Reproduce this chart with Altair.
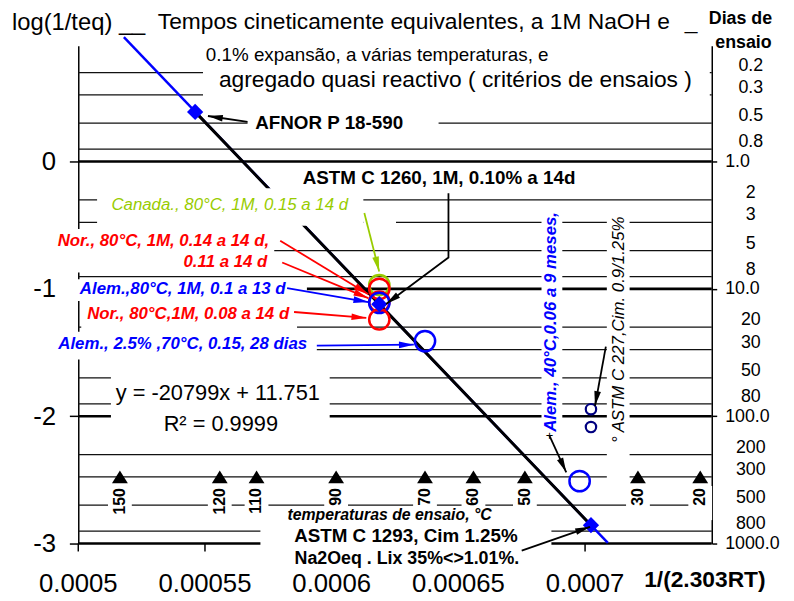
import math
import altair as alt
import pandas as pd

FONT = "Liberation Sans"

# ---------------- data ----------------
# right-hand "Dias de ensaio" scale (log(1/teq) = -log10(days))
days = [0.2, 0.3, 0.5, 0.8, 1, 2, 3, 5, 8, 10, 20, 30, 50, 80, 100, 200, 300, 500, 800, 1000]
day_labels = ["0.2", "0.3", "0.5", "0.8", "1.0", "2", "3", "5", "8", "10.0",
              "20", "30", "50", "80", "100.0", "200", "300", "500", "800", "1000.0"]
decades = [1, 10, 100, 1000]

# x-axis ticks
x_ticks = [0.0005, 0.00055, 0.0006, 0.00065, 0.0007]

# blue diamonds (regression points)
diam_names = ["AFNOR P 18-590", "ASTM C 1260", "ASTM C 1293"]
diam_x = [0.00054612, 0.00061880, 0.00070233]
diam_y = [0.39, -1.12, -2.856]

# blue trend line extension (y = -20799x + 11.751)
trend_x = [0.000518, 0.000709]
trend_y = [0.977, -2.995]

# open circles
circ_names = ["Canada", "Nor 0.14", "Nor 0.11", "Alem 80", "Nor 0.08", "Alem 70", "Alem 40"]
circ_group = ["Canada", "Nor", "Nor", "Alem", "Nor", "Alem", "Alem"]
circ_x = [0.0006188, 0.0006188, 0.0006188, 0.0006188, 0.0006188, 0.00063683, 0.00069785]
circ_y = [-0.97, -1.00, -1.10, -1.11, -1.24, -1.41, -2.51]

# ASTM C 227 small circles
c227_x = [0.00070233, 0.00070233]
c227_y = [-1.945, -2.085]

# test temperatures (triangles on the 300-day line)
temp_labels = ["150", "120", "110", "90", "70", "60", "50", "30", "20"]
temp_x = [0.00051643, 0.00055584, 0.00057035, 0.00060176, 0.00063683,
          0.00065595, 0.00067625, 0.00072087, 0.00074545]
temp_level = -2.477
temp_label_y = -2.565

# white text-box masks (data coordinates)
mask_x1 = [0.00054922, 0.00056680, 0.00058438, 0.00050742, 0.00049063, 0.00049570,
           0.00050117, 0.00049063, 0.00051289, 0.00068281, 0.00070859, 0.00057188, 0.00061250]
mask_x2 = [0.00074922, 0.00064219, 0.00070039, 0.00061250, 0.00057734, 0.00059023,
           0.00058633, 0.00059414, 0.00059922, 0.00069102, 0.00071758, 0.00068672, 0.00062539]
mask_y1 = [0.948, 0.389, -0.039, -0.210, -0.529, -0.925, -1.119, -1.337, -1.648, -0.350, -0.350,
           -2.729, -0.4276]
mask_y2 = [0.451, 0.202, -0.241, -0.505, -0.871, -1.096, -1.322, -1.555, -2.177, -2.177, -2.526,
           -3.203, -0.5131]

# arrows (polylines, last point = tip)
arrow_id = ["a1", "a1", "a2", "a2", "a2", "a3", "a3", "a4", "a4", "a5", "a5", "a6", "a6",
            "a7", "a7", "a8", "a8", "a9", "a9", "a10", "a10", "a11", "a11"]
arrow_x = [0.00056680, 0.00055117, 0.00064609, 0.00064609, 0.00062148, 0.00061289, 0.00061875,
           0.00057969, 0.00061445, 0.00058047, 0.00061445, 0.00058242, 0.00061445,
           0.00058516, 0.00061367, 0.00059414, 0.00063242, 0.00068594, 0.00069258,
           0.00070820, 0.00070391, 0.000675, 0.00070195]
arrow_y = [0.3109, 0.3576, -0.2488, -0.7540, -1.1194, -0.4042, -0.8629,
           -0.6219, -1.0417, -0.7929, -1.0728, -0.9950, -1.1039,
           -1.1816, -1.2282, -1.4459, -1.4381, -2.1533, -2.4409,
           -1.4537, -1.9201, -3.0550, -2.8685]
arrow_colors = {"a1": "black", "a2": "black", "a3": "#99cc00", "a4": "#ff0000", "a5": "#ff0000",
                "a6": "#0000ff", "a7": "#ff0000", "a8": "#0000ff", "a9": "black", "a10": "black",
                "a11": "black"}

# text annotations
ann_text = ["log(1/teq) __", "Tempos cineticamente equivalentes, a 1M NaOH e", "_",
            "0.1% expansão, a várias temperaturas, e",
            "agregado quasi reactivo ( critérios de ensaios )", "Dias de", "ensaio",
            "AFNOR P 18-590", "ASTM C 1260, 1M, 0.10% a 14d",
            "Canada., 80°C, 1M, 0.15 a 14 d", "Nor., 80°C, 1M, 0.14 a 14 d,", "0.11 a 14 d",
            "Alem.,80°C, 1M, 0.1 a 13 d", "Nor., 80°C,1M, 0.08 a 14 d",
            "Alem., 2.5% ,70°C, 0.15, 28 dias", "y = -20799x + 11.751", "R² = 0.9999",
            "Alem., 40°C,0.06 a 9 meses,", "° ASTM C 227,Cim. 0.9/1.25%",
            "temperaturas de ensaio, °C", "ASTM C 1293, Cim 1.25%", "Na2Oeq . Lix 35%<>1.01%.",
            "1/(2.303RT)", "+"]
ann_x = [0.00047383, 0.00063242, 0.00074180, 0.00061797, 0.00064883, 0.00076133, 0.00076250,
         0.00059902, 0.00064238, 0.00055977, 0.00053359, 0.00057461, 0.00054121, 0.00054336,
         0.00054121, 0.00055508, 0.00055625, 0.00068672, 0.00071328, 0.00062285, 0.00062930,
         0.00062969, 0.00074727, 0.00068594]
ann_y = [1.0883, 1.0961, 1.0961, 0.8396, 0.6374, 1.1194, 0.9328,
         0.3032, -0.1322, -0.3420, -0.6219, -0.7929, -1.0028, -1.1971,
         -1.4303, -1.819, -2.060, -1.2593, -1.3215, -2.7752, -2.9384,
         -3.125, -3.2882, -2.1533]
ann_style = ["ylab", "title", "title", "title2", "title", "dias", "dias",
             "bold", "bold", "green", "red", "red_right", "blue", "red",
             "blue", "eq", "eq", "blue_vert", "black_vert", "temps", "bold",
             "bold18", "xtitle", "plus"]

right_label_x = 0.0007654

# ---------------- styles ----------------
styles = {
    "ylab": dict(fontSize=24, align="left"),
    "title": dict(fontSize=23),
    "title2": dict(fontSize=19),
    "dias": dict(fontSize=18, fontWeight="bold"),
    "bold": dict(fontSize=19, fontWeight="bold"),
    "bold18": dict(fontSize=18, fontWeight="bold"),
    "green": dict(fontSize=17, fontStyle="italic", color="#99cc00"),
    "red": dict(fontSize=17, fontStyle="italic", fontWeight="bold", color="#ff0000"),
    "red_right": dict(fontSize=17, fontStyle="italic", fontWeight="bold", color="#ff0000", align="right"),
    "blue": dict(fontSize=17, fontStyle="italic", fontWeight="bold", color="#0000ff"),
    "eq": dict(fontSize=22),
    "blue_vert": dict(fontSize=17, fontStyle="italic", fontWeight="bold", color="#0000ff", angle=270),
    "black_vert": dict(fontSize=17, fontStyle="italic", angle=270),
    "temps": dict(fontSize=16, fontStyle="italic", fontWeight="bold"),
    "xtitle": dict(fontSize=23, fontWeight="bold"),
    "plus": dict(fontSize=13),
}

W, H = 640, 503
XD = [0.0005, 0.00075]
YD = [-3, 0.91]
xs = alt.Scale(domain=XD, nice=False, zero=False)
ys = alt.Scale(domain=YD, nice=False, zero=False)


def X(f, axis=None):
    return alt.X(f, type="quantitative", scale=xs, axis=axis)


def Y(f, axis=None):
    return alt.Y(f, type="quantitative", scale=ys, axis=axis)


left_axis = alt.Axis(orient="left", values=[0, -1, -2, -3], labelExpr="'' + datum.value",
                     labelFont=FONT, labelFontSize=26, labelColor="black", tickSize=9,
                     tickWidth=1.5, tickColor="black", domainColor="black", domainWidth=1.5,
                     labelPadding=14, grid=False, title=None)
right_axis = alt.Axis(orient="right", values=[0, -1, -2, -3],
                      labelExpr="format(pow(10, -datum.value), '.1f')",
                      labelFont=FONT, labelFontSize=18, labelColor="black", tickSize=5,
                      tickWidth=1.5, tickColor="black", domainColor="black", domainWidth=1.5,
                      labelPadding=8, labelAlign="left", grid=False, title=None)

days_df = pd.DataFrame({"d": days, "lab": day_labels, "dec": [d in decades for d in days]})

# x axis drawn by hand (ticks + labels) so that it sits under the text boxes
xt_df = pd.DataFrame({"x": x_ticks, "lab": [str(v) for v in x_ticks]})
x_tick_marks = alt.Chart(xt_df).mark_rule(color="black", strokeWidth=1.5, y2Offset=8).encode(
    x=X("x"), y=alt.value(H), y2=alt.value(H))
x_tick_labels = alt.Chart(xt_df).mark_text(font=FONT, fontSize=26, color="black", align="center",
                                           baseline="top", dy=28).encode(
    x=X("x"), y=alt.value(H), text="lab:N")

grid_thin = alt.Chart(days_df).transform_filter("!datum.dec").transform_calculate(
    yv="-log(datum.d)/LN10").mark_rule(color="#111111", strokeWidth=1.3).encode(
    y=Y("yv", left_axis))
grid_thick = alt.Chart(days_df).transform_filter("datum.dec").transform_calculate(
    yv="-log(datum.d)/LN10").mark_rule(color="black", strokeWidth=2.6).encode(
    y=Y("yv", right_axis))
right_labels = alt.Chart(days_df).transform_filter("!datum.dec").transform_calculate(
    yv="-log(datum.d)/LN10", lx=str(right_label_x)).mark_text(
    font=FONT, fontSize=18, dy=-7, align="center", baseline="middle", color="black").encode(
    x=X("lx"), y=Y("yv"), text="lab:N")

trend = alt.Chart(pd.DataFrame({"x": trend_x, "y": trend_y})).mark_line(
    color="#0000ff", strokeWidth=2.5).encode(x=X("x"), y=Y("y"))
diam_df = pd.DataFrame({"n": diam_names, "x": diam_x, "y": diam_y})
black_line = alt.Chart(diam_df).mark_line(color="black", strokeWidth=3).encode(x=X("x"), y=Y("y"))

masks = alt.Chart(pd.DataFrame({"x1": mask_x1, "x2": mask_x2, "y1": mask_y1, "y2": mask_y2})).mark_rect(
    color="white", opacity=1).encode(x=X("x1"), x2="x2", y=Y("y1"), y2="y2")

temp_df = pd.DataFrame({"t": temp_labels, "tx": temp_x, "ty": [temp_level] * len(temp_x),
                        "ly": [temp_label_y] * len(temp_x)})
tmask = alt.Chart(temp_df).transform_calculate(
    xa="datum.tx - 0.0000047", xb="datum.tx + 0.0000047", ya="-2.548", yb="-2.816").mark_rect(
    color="white", opacity=1).encode(x=X("xa"), x2="xb", y=Y("ya"), y2="yb")

circ_df = pd.DataFrame({"n": circ_names, "g": circ_group, "x": circ_x, "y": circ_y})
circles = alt.Chart(circ_df).mark_point(shape="circle", filled=False, strokeWidth=2.5, size=420,
                                        opacity=1).encode(
    x=X("x"), y=Y("y"),
    color=alt.Color("g:N", scale=alt.Scale(domain=["Canada", "Nor", "Alem"],
                                           range=["#99cc00", "#ff0000", "#0000ff"]), legend=None))
c227 = alt.Chart(pd.DataFrame({"x": c227_x, "y": c227_y})).mark_point(
    shape="circle", filled=False, strokeWidth=2.2, size=110, color="#000080", opacity=1).encode(
    x=X("x"), y=Y("y"))
diamonds = alt.Chart(diam_df).mark_point(shape="diamond", filled=True, size=270, color="#0000ff",
                                         opacity=1).encode(x=X("x"), y=Y("y"))

triangles = alt.Chart(temp_df).mark_point(shape="M-1,0.8L0,-0.8L1,0.8Z", filled=True, size=256,
                                          color="black", opacity=1).encode(
    x=X("tx"), y=Y("ty"))
temp_text = alt.Chart(temp_df).mark_text(font=FONT, fontSize=16, fontWeight="bold", angle=270,
                                         align="right", baseline="middle", color="black").encode(
    x=X("tx"), y=Y("ly"), text="t:N")

# arrows
arr_df = pd.DataFrame({"id": arrow_id, "x": arrow_x, "y": arrow_y})
arr_df["o"] = range(len(arr_df))
arr_df["c"] = [arrow_colors[i] for i in arrow_id]
arrow_lines = alt.Chart(arr_df).mark_line(strokeWidth=1.8).encode(
    x=X("x"), y=Y("y"), detail="id:N", order="o:Q", color=alt.Color("c:N", scale=None))

px_x = W / (XD[1] - XD[0])
px_y = H / (YD[1] - YD[0])
heads = []
for aid in dict.fromkeys(arrow_id):
    pts = arr_df[arr_df["id"] == aid]
    x1, y1 = pts.iloc[-2]["x"], pts.iloc[-2]["y"]
    x2, y2 = pts.iloc[-1]["x"], pts.iloc[-1]["y"]
    dx = (x2 - x1) * px_x
    dy = -(y2 - y1) * px_y
    ang = math.degrees(math.atan2(dx, -dy)) % 360
    heads.append({"x": x2, "y": y2, "ang": ang, "c": arrow_colors[aid]})
arrow_heads = alt.Chart(pd.DataFrame(heads)).mark_point(
    shape="M0,0L-0.45,2L0.45,2Z", filled=True, size=225, opacity=1).encode(
    x=X("x"), y=Y("y"), angle=alt.Angle("ang:Q", scale=None), color=alt.Color("c:N", scale=None))

text_layers = []
for t, x, y, s in zip(ann_text, ann_x, ann_y, ann_style):
    kw = dict(font=FONT, align="center", baseline="middle", color="black")
    kw.update(styles[s])
    text_layers.append(
        alt.Chart(pd.DataFrame({"t": [t], "x": [x], "y": [y]})).mark_text(**kw).encode(
            x=X("x"), y=Y("y"), text="t:N"))

chart = alt.layer(
    x_tick_marks, x_tick_labels, grid_thin, grid_thick, right_labels, trend, black_line, masks,
    tmask, circles, c227, diamonds, triangles, temp_text, arrow_lines, arrow_heads, *text_layers
).resolve_axis(y="independent").properties(
    width=W, height=H,
    padding={"left": 71, "top": 35, "right": 75, "bottom": 55},
    autosize=alt.AutoSizeParams(type="none"),
).configure_view(stroke=None)

chart.save("out.html", embed_options={"renderer": "svg", "actions": False})
